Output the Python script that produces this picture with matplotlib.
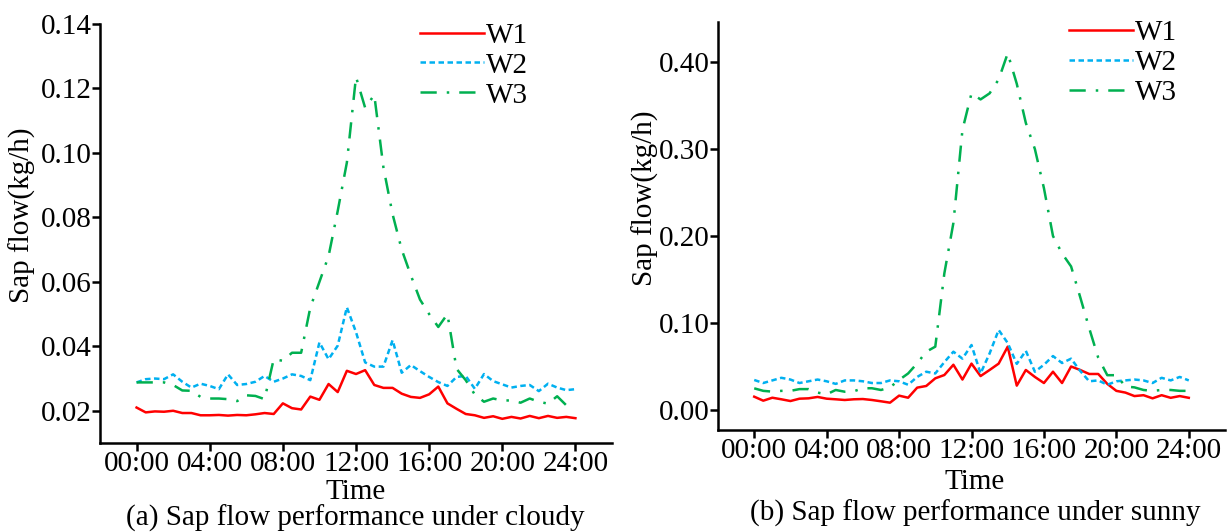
import matplotlib
matplotlib.use("Agg")
import matplotlib.pyplot as plt
import numpy as np

plt.rcParams['font.family'] = ['Liberation Serif', 'DejaVu Serif']

# half-hour readings, 00:00 .. 24:00
hours = np.arange(49) * 0.5
tick_hours = [0, 4, 8, 12, 16, 20, 24]
tick_labels = ["00:00", "04:00", "08:00", "12:00", "16:00", "20:00", "24:00"]

# (a) cloudy
cloudy_w1 = [0.0210, 0.0195, 0.0198, 0.0197, 0.0200, 0.0193, 0.0193, 0.0186, 0.0186, 0.0187,
             0.0185, 0.0187, 0.0186, 0.0189, 0.0193, 0.0190, 0.0223, 0.0208, 0.0204, 0.0244,
             0.0234, 0.0283, 0.0258, 0.0324, 0.0314, 0.0326, 0.0280, 0.0271, 0.0271, 0.0253,
             0.0243, 0.0240, 0.0251, 0.0275, 0.0223, 0.0206, 0.0190, 0.0186, 0.0178, 0.0183,
             0.0175, 0.0181, 0.0176, 0.0184, 0.0177, 0.0184, 0.0178, 0.0181, 0.0177]
cloudy_w2 = [0.0288, 0.0298, 0.0300, 0.0298, 0.0313, 0.0290, 0.0272, 0.0284, 0.0277, 0.0267,
             0.0313, 0.0280, 0.0283, 0.0290, 0.0308, 0.0290, 0.0300, 0.0313, 0.0308, 0.0295,
             0.0412, 0.0360, 0.0402, 0.0521, 0.0444, 0.0350, 0.0337, 0.0337, 0.0419, 0.0318,
             0.0342, 0.0323, 0.0305, 0.0289, 0.0277, 0.0305, 0.0308, 0.0268, 0.0314, 0.0292,
             0.0282, 0.0272, 0.0277, 0.0280, 0.0261, 0.0284, 0.0272, 0.0264, 0.0267]
cloudy_w3 = [0.0288, 0.0288, 0.0288, 0.0288, 0.0280, 0.0263, 0.0262, 0.0243, 0.0238, 0.0238,
             0.0236, 0.0230, 0.0248, 0.0246, 0.0236, 0.0360, 0.0355, 0.0380, 0.0380, 0.0520,
             0.0600, 0.0680, 0.0820, 0.0970, 0.1236, 0.1140, 0.1180, 0.0955, 0.0810, 0.0700,
             0.0620, 0.0545, 0.0500, 0.0460, 0.0500, 0.0330, 0.0295, 0.0250, 0.0228, 0.0238,
             0.0232, 0.0232, 0.0225, 0.0238, 0.0228, 0.0222, 0.0245, 0.0217, np.nan]

# (b) sunny
sunny_w1 = [0.0153, 0.0107, 0.0141, 0.0123, 0.0103, 0.0130, 0.0134, 0.0150, 0.0130, 0.0123,
            0.0115, 0.0123, 0.0126, 0.0115, 0.0100, 0.0084, 0.0165, 0.0141, 0.0257, 0.0276,
            0.0364, 0.0402, 0.0520, 0.0350, 0.0533, 0.0390, 0.0460, 0.0533, 0.0728, 0.0280,
            0.0460, 0.0380, 0.0310, 0.0440, 0.0310, 0.0500, 0.0460, 0.0414, 0.0414, 0.0300,
            0.0220, 0.0200, 0.0160, 0.0170, 0.0134, 0.0170, 0.0140, 0.0160, 0.0140]
sunny_w2 = [0.0345, 0.0310, 0.0340, 0.0370, 0.0350, 0.0310, 0.0330, 0.0350, 0.0330, 0.0300,
            0.0340, 0.0340, 0.0330, 0.0310, 0.0310, 0.0340, 0.0330, 0.0290, 0.0380, 0.0440,
            0.0420, 0.0550, 0.0670, 0.0590, 0.0747, 0.0420, 0.0650, 0.0920, 0.0770, 0.0530,
            0.0680, 0.0440, 0.0520, 0.0620, 0.0540, 0.0590, 0.0450, 0.0330, 0.0340, 0.0290,
            0.0330, 0.0340, 0.0350, 0.0340, 0.0310, 0.0370, 0.0340, 0.0380, 0.0340]
sunny_w3 = [0.0249, 0.0220, 0.0211, 0.0220, 0.0220, 0.0240, 0.0240, 0.0200, 0.0180, 0.0230,
            0.0210, 0.0215, 0.0250, 0.0250, 0.0230, 0.0260, 0.0345, 0.0420, 0.0536, 0.0670,
            0.0728, 0.1570, 0.2150, 0.3220, 0.3640, 0.3570, 0.3640, 0.3800, 0.4100, 0.3750,
            0.3300, 0.3000, 0.2550, 0.2000, 0.1800, 0.1650, 0.1300, 0.0940, 0.0600, 0.0400,
            0.0400, 0.0270, 0.0260, 0.0230, 0.0220, 0.0230, 0.0230, 0.0220, 0.0220]

red, blue, green = "#ff0000", "#00b0f0", "#00b050"
styles = [dict(color=red, ls="-", lw=1.8),
          dict(color=blue, ls=(0, (2.2, 1.4)), lw=1.8),
          dict(color=green, ls=(0, (6.5, 4, 1, 4)), lw=1.8)]

fig = plt.figure(figsize=(12.28, 5.32), dpi=100)
W, H = 1228, 532


def make_ax(x0, y0, x1, y1):
    return fig.add_axes([x0 / W, 1 - y1 / H, (x1 - x0) / W, (y1 - y0) / H])


ax1 = make_ax(100, 24, 612, 443)
ax2 = make_ax(718, 22, 1225, 430)

fs = 21
panels = [
    (ax1, [cloudy_w1, cloudy_w2, cloudy_w3], (0.01, 0.14), np.arange(0.02, 0.141, 0.02),
     (0.625, 1.004), -0.152, 0.544, 0.5, -0.117, 0.498, -0.179, "(a) Sap flow performance under cloudy"),
    (ax2, [sunny_w1, sunny_w2, sunny_w3], (-0.023, 0.446), np.arange(0, 0.41, 0.1),
     (0.692, 1.005), -0.144, 0.567, 0.507, -0.128, 0.507, -0.204, "(b) Sap flow performance under sunny"),
]

for ax, series, ylim, yticks, leg_pos, ylx, yly, tlx, tly, cx, cy, caption in panels:
    for name, vals, st in zip(["W1", "W2", "W3"], series, styles):
        ax.plot(hours, vals, label=name, **st)
    ax.set_xlim(-2, 26)
    ax.set_ylim(*ylim)
    ax.set_xticks(tick_hours)
    ax.set_xticklabels(tick_labels, fontsize=fs)
    ax.set_yticks(yticks)
    ax.set_yticklabels(["{:.2f}".format(v) for v in yticks], fontsize=fs)
    for s in ["top", "right"]:
        ax.spines[s].set_visible(False)
    for s in ["left", "bottom"]:
        ax.spines[s].set_linewidth(1.8)
    ax.tick_params(direction="out", length=6, width=1.8, pad=0)
    ax.legend(loc="upper left", bbox_to_anchor=leg_pos, frameon=False, fontsize=fs,
              borderpad=0, borderaxespad=0, handlelength=2.2, handletextpad=0.05,
              labelspacing=0.12)
    ax.text(ylx, yly, "Sap flow(kg/h)", transform=ax.transAxes, rotation=90,
            ha="center", va="center", fontsize=fs)
    ax.text(tlx, tly, "Time", transform=ax.transAxes, ha="center", va="center", fontsize=fs)
    ax.text(cx, cy, caption, transform=ax.transAxes, ha="center", va="center", fontsize=fs)

fig.savefig("out.png", dpi=100)
